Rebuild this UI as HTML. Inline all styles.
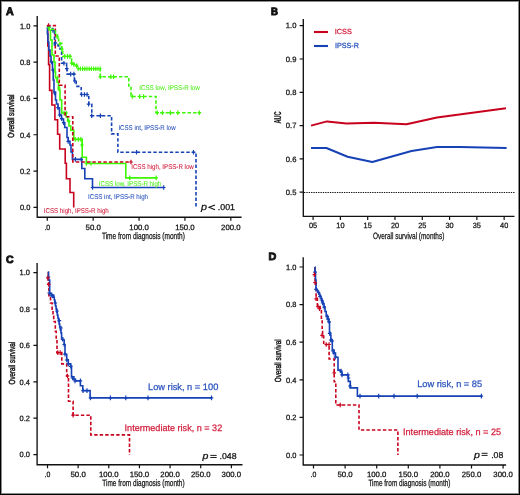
<!DOCTYPE html>
<html><head><meta charset="utf-8"><style>
html,body{margin:0;padding:0;background:#fff;}
#fig{position:relative;width:520px;height:495px;box-sizing:border-box;border:1px solid #000;box-shadow:inset 0 0 0 1px rgba(0,0,0,0.45);overflow:hidden;background:#fff;}
svg{position:absolute;left:-1px;top:-1px;will-change:transform;}
text{font-family:"Liberation Sans",sans-serif;stroke-width:0.25px;paint-order:stroke;text-rendering:geometricPrecision;}
.t{stroke-width:0.42px;}
</style></head><body>
<div id="fig"><svg width="520" height="495" viewBox="0 0 520 495">
<text x="6" y="15" font-size="11" text-anchor="start" fill="#111" stroke="#111" textLength="7.7" lengthAdjust="spacingAndGlyphs" font-weight="bold" style="stroke-width:0.9px">A</text>
<path d="M37.2 16V217.2H241.6" fill="none" stroke="#111" stroke-width="1.35"/>
<path d="M33.5 25.8H37.2M33.5 62.12H37.2M33.5 98.44H37.2M33.5 134.76H37.2M33.5 171.08H37.2M33.5 207.4H37.2M47.3 217.2V220.8M93.18 217.2V220.8M139.06 217.2V220.8M184.94 217.2V220.8M230.82 217.2V220.8" fill="none" stroke="#111" stroke-width="1.2"/>
<text x="30.3" y="28.55" font-size="7.7" text-anchor="end" fill="#111" stroke="#111" textLength="10.4" lengthAdjust="spacingAndGlyphs">1.0</text>
<text x="30.3" y="64.87" font-size="7.7" text-anchor="end" fill="#111" stroke="#111" textLength="10.4" lengthAdjust="spacingAndGlyphs">0.8</text>
<text x="30.3" y="101.19" font-size="7.7" text-anchor="end" fill="#111" stroke="#111" textLength="10.4" lengthAdjust="spacingAndGlyphs">0.6</text>
<text x="30.3" y="137.51" font-size="7.7" text-anchor="end" fill="#111" stroke="#111" textLength="10.4" lengthAdjust="spacingAndGlyphs">0.4</text>
<text x="30.3" y="173.83" font-size="7.7" text-anchor="end" fill="#111" stroke="#111" textLength="10.4" lengthAdjust="spacingAndGlyphs">0.2</text>
<text x="30.3" y="210.15" font-size="7.7" text-anchor="end" fill="#111" stroke="#111" textLength="10.4" lengthAdjust="spacingAndGlyphs">0.0</text>
<text x="47.3" y="229.6" font-size="7.7" text-anchor="middle" fill="#111" stroke="#111" textLength="5.8" lengthAdjust="spacingAndGlyphs">.0</text>
<text x="93.18" y="229.6" font-size="7.7" text-anchor="middle" fill="#111" stroke="#111" textLength="15.3" lengthAdjust="spacingAndGlyphs">50.0</text>
<text x="139.06" y="229.6" font-size="7.7" text-anchor="middle" fill="#111" stroke="#111" textLength="19.5" lengthAdjust="spacingAndGlyphs">100.0</text>
<text x="184.94" y="229.6" font-size="7.7" text-anchor="middle" fill="#111" stroke="#111" textLength="19.5" lengthAdjust="spacingAndGlyphs">150.0</text>
<text x="230.82" y="229.6" font-size="7.7" text-anchor="middle" fill="#111" stroke="#111" textLength="19.5" lengthAdjust="spacingAndGlyphs">200.0</text>
<text x="101.9" y="239" font-size="9.2" text-anchor="start" fill="#111" stroke="#111" textLength="83" lengthAdjust="spacingAndGlyphs">Time from diagnosis (month)</text>
<g transform="translate(14.2 116.1) rotate(-90) scale(0.7102 1)"><text class="t" x="0" y="0" font-size="8.9" text-anchor="middle" fill="#111" stroke="#111">Overall survival</text></g>
<path d="M47.3 25.8H47.8V46H48.6V64.6H49.6V90.4H51.9V105H54.9V119.7H57.6V134.3H59.7V149H65.2V163.2H66.4V178.7H70V192.5H73.7V207.4" fill="none" stroke="#c8021e" stroke-width="1.6"/>
<path d="M47.3 27H47.4V34H47.9V42H48.8V50H50V56H51V62H52.5V70H53.2V80H54V92H55.5V100H56.5V104H58V108H59.5V115H61.5V119H63.5V123H64.7V127.5H67V137.5H68.2V141.4H70V145H71V152H72.4V159.4H81.8V168.5H84.8V178.7H92.5V187.5H163.7" fill="none" stroke="#1642b6" stroke-width="1.6"/>
<path d="M51.5 59.7V64.3M49.7 62H53.3M53 67.7V72.3M51.2 70H54.8M54.5 90.7V95.3M52.7 93H56.3M58 105.3V109.9M56.2 107.6H59.8M59.7 112.7V117.3M57.9 115H61.5M61.7 116.4V121M59.9 118.7H63.5M63.7 120.4V125M61.9 122.7H65.5M68.2 139.1V143.7M66.4 141.4H70M75.4 157.1V161.7M73.6 159.4H77.2M81.2 157.1V161.7M79.4 159.4H83M92.5 185.2V189.8M90.7 187.5H94.3M163.7 185.2V189.8M161.9 187.5H165.5" fill="none" stroke="#1642b6" stroke-width="1.2"/>
<path d="M47.3 27.5H49V30H50.5V40H52V55H54V62H55V72H55.5V78H57V82H58.5V90H60V100H61.7V113H66.2V116.7H67.7V121H69V126H70.8V130.3H73.8V139.4H82.2V157.3H86.4V163.5H125.8V177.9H156.2" fill="none" stroke="#3af800" stroke-width="1.6"/>
<path d="M57.5 75.7V80.3M55.7 78H59.3M59 85.7V90.3M57.2 88H60.8M64 110.7V115.3M62.2 113H65.8M66.2 110.7V115.3M64.4 113H68M68.7 118.7V123.3M66.9 121H70.5M75.3 137.1V141.7M73.5 139.4H77.1M78.3 137.1V141.7M76.5 139.4H80.1M80.9 137.1V141.7M79.1 139.4H82.7M81.9 142.7V147.3M80.1 145H83.7M86.4 161.2V165.8M84.6 163.5H88.2M91 161.2V165.8M89.2 163.5H92.8M129.8 175.6V180.2M128 177.9H131.6M156.2 175.6V180.2M154.4 177.9H158" fill="none" stroke="#3af800" stroke-width="1.2"/>
<path d="M47.3 25.6H55.3V56H59.3V85.3H65.1V116.7H72.8V162H131" fill="none" stroke="#c8021e" stroke-width="1.6" stroke-dasharray="3.4 2.1"/>
<path d="M48.5 23.3V27.9M46.7 25.6H50.3M131 159.7V164.3M129.2 162H132.8" fill="none" stroke="#c8021e" stroke-width="1.2"/>
<path d="M47.3 27.3H50.9V28.5H52.7V30.5H54.5V45H58.2V46H60V49H61.6V63.2H66.6V68.6H67.1V74.1H74.4V80.9H76.2V86.4H81.2V94.5H88.8V104.2H91.8V115.7H111.6V133.9H117.9V152.3H196V207.4" fill="none" stroke="#1642b6" stroke-width="1.6" stroke-dasharray="3.4 2.1"/>
<path d="M53 28.2V32.8M51.2 30.5H54.8M55.5 40.9V45.5M53.7 43.2H57.3M63.9 60.9V65.5M62.1 63.2H65.7M66.8 66.3V70.9M65 68.6H68.6M70.7 71.8V76.4M68.9 74.1H72.5M73.9 71.8V76.4M72.1 74.1H75.7M74.8 78.6V83.2M73 80.9H76.6M81.6 92.2V96.8M79.8 94.5H83.4M84.4 92.2V96.8M82.6 94.5H86.2M87.1 92.2V96.8M85.3 94.5H88.9M88.6 101.9V106.5M86.8 104.2H90.4M91.7 113.4V118M89.9 115.7H93.5M100.4 113.4V118M98.6 115.7H102.2M136.5 150V154.6M134.7 152.3H138.3M193.5 150V154.6M191.7 152.3H195.3" fill="none" stroke="#1642b6" stroke-width="1.2"/>
<path d="M47.3 27.5H51.8V29.5H55.5V35H57.5V37H58.6V43.2H61.8V49.1H62.7V56.4H71.6V63.2H73.9V64.5H76.6V65.9H77.1V68.8H100.3V76.8H128.8V86H131V96.5H156V112.7H200.6" fill="none" stroke="#3af800" stroke-width="1.6" stroke-dasharray="3.4 2.1"/>
<path d="M57.3 34.5V39.1M55.5 36.8H59.1M60 41.8V46.4M58.2 44.1H61.8M61.8 46.8V51.4M60 49.1H63.6M64.8 54.1V58.7M63 56.4H66.6M67.5 54.1V58.7M65.7 56.4H69.3M70 54.1V58.7M68.2 56.4H71.8M71.6 60.9V65.5M69.8 63.2H73.4M73.9 62.2V66.8M72.1 64.5H75.7M76.6 63.6V68.2M74.8 65.9H78.4M100.3 74.5V79.1M98.5 76.8H102.1M110.8 74.5V79.1M109 76.8H112.6M113.5 74.5V79.1M111.7 76.8H115.3M132.3 94.2V98.8M130.5 96.5H134.1M139.6 94.2V98.8M137.8 96.5H141.4M143.5 94.2V98.8M141.7 96.5H145.3M157.3 110.4V115M155.5 112.7H159.1M162.5 110.4V115M160.7 112.7H164.3M170.4 110.4V115M168.6 112.7H172.2M177.8 110.4V115M176 112.7H179.6M199.3 110.4V115M197.5 112.7H201.1" fill="none" stroke="#3af800" stroke-width="1.2"/>
<path d="M78.2 66.6V71M76.9 68.8H79.5M80.4 66.6V71M79.1 68.8H81.7M82.6 66.6V71M81.3 68.8H83.9M84.8 66.6V71M83.5 68.8H86.1M87 66.6V71M85.7 68.8H88.3M89.2 66.6V71M87.9 68.8H90.5M91.4 66.6V71M90.1 68.8H92.7M93.6 66.6V71M92.3 68.8H94.9M95.8 66.6V71M94.5 68.8H97.1M98 66.6V71M96.7 68.8H99.3M100.2 66.6V71M98.9 68.8H101.5" fill="none" stroke="#3af800" stroke-width="1.1"/>
<text x="139.2" y="89.8" font-size="7" text-anchor="start" fill="#55ee22" stroke="#55ee22" textLength="60.6" lengthAdjust="spacingAndGlyphs" style="stroke-width:0.08px">ICSS low, IPSS-R low</text>
<text x="118.4" y="130.1" font-size="7" text-anchor="start" fill="#2a52be" stroke="#2a52be" textLength="57.3" lengthAdjust="spacingAndGlyphs" style="stroke-width:0.08px">ICSS int, IPSS-R low</text>
<text x="131.2" y="169.3" font-size="7" text-anchor="start" fill="#d21e3c" stroke="#d21e3c" textLength="62.6" lengthAdjust="spacingAndGlyphs" style="stroke-width:0.08px">ICSS high, IPSS-R low</text>
<text x="98.8" y="185.5" font-size="7" text-anchor="start" fill="#55ee22" stroke="#55ee22" textLength="62.5" lengthAdjust="spacingAndGlyphs" style="stroke-width:0.08px">ICSS low, IPSS-R high</text>
<text x="88" y="198.8" font-size="7" text-anchor="start" fill="#2a52be" stroke="#2a52be" textLength="60" lengthAdjust="spacingAndGlyphs" style="stroke-width:0.08px">ICSS int, IPSS-R high</text>
<text x="43.8" y="213.3" font-size="7" text-anchor="start" fill="#d21e3c" stroke="#d21e3c" textLength="65" lengthAdjust="spacingAndGlyphs" style="stroke-width:0.08px">ICSS high, IPSS-R high</text>
<text x="200.9" y="209.7" font-size="9.6" text-anchor="start" fill="#111" stroke="#111" textLength="6" lengthAdjust="spacingAndGlyphs" font-style="italic">p</text>
<path d="M215 204.9L209 207.35L215 209.8" fill="none" stroke="#111" stroke-width="1.05"/>
<text x="217.8" y="209.7" font-size="8.6" text-anchor="start" fill="#111" stroke="#111" textLength="17.2" lengthAdjust="spacingAndGlyphs">.001</text>
<text x="271" y="14.7" font-size="10.5" text-anchor="start" fill="#111" stroke="#111" textLength="7" lengthAdjust="spacingAndGlyphs" font-weight="bold" style="stroke-width:0.9px">B</text>
<path d="M303.3 19V216.3H514.5" fill="none" stroke="#111" stroke-width="1.35"/>
<path d="M299.6 25.7H303.3M299.6 59H303.3M299.6 92.3H303.3M299.6 125.6H303.3M299.6 158.9H303.3M299.6 192.2H303.3M313.1 216.3V219.9M340.39 216.3V219.9M367.69 216.3V219.9M394.98 216.3V219.9M422.27 216.3V219.9M449.57 216.3V219.9M476.86 216.3V219.9M504.15 216.3V219.9" fill="none" stroke="#111" stroke-width="1.2"/>
<text x="296.4" y="28.45" font-size="7.7" text-anchor="end" fill="#111" stroke="#111" textLength="10.6" lengthAdjust="spacingAndGlyphs">1.0</text>
<text x="296.4" y="61.75" font-size="7.7" text-anchor="end" fill="#111" stroke="#111" textLength="10.6" lengthAdjust="spacingAndGlyphs">0.9</text>
<text x="296.4" y="95.05" font-size="7.7" text-anchor="end" fill="#111" stroke="#111" textLength="10.6" lengthAdjust="spacingAndGlyphs">0.8</text>
<text x="296.4" y="128.35" font-size="7.7" text-anchor="end" fill="#111" stroke="#111" textLength="10.6" lengthAdjust="spacingAndGlyphs">0.7</text>
<text x="296.4" y="161.65" font-size="7.7" text-anchor="end" fill="#111" stroke="#111" textLength="10.6" lengthAdjust="spacingAndGlyphs">0.6</text>
<text x="296.4" y="194.95" font-size="7.7" text-anchor="end" fill="#111" stroke="#111" textLength="10.6" lengthAdjust="spacingAndGlyphs">0.5</text>
<text x="313.1" y="228.2" font-size="7.7" text-anchor="middle" fill="#111" stroke="#111" textLength="8.2" lengthAdjust="spacingAndGlyphs">05</text>
<text x="340.39" y="228.2" font-size="7.7" text-anchor="middle" fill="#111" stroke="#111" textLength="8.2" lengthAdjust="spacingAndGlyphs">10</text>
<text x="367.69" y="228.2" font-size="7.7" text-anchor="middle" fill="#111" stroke="#111" textLength="8.2" lengthAdjust="spacingAndGlyphs">15</text>
<text x="394.98" y="228.2" font-size="7.7" text-anchor="middle" fill="#111" stroke="#111" textLength="8.2" lengthAdjust="spacingAndGlyphs">20</text>
<text x="422.27" y="228.2" font-size="7.7" text-anchor="middle" fill="#111" stroke="#111" textLength="8.2" lengthAdjust="spacingAndGlyphs">25</text>
<text x="449.57" y="228.2" font-size="7.7" text-anchor="middle" fill="#111" stroke="#111" textLength="8.2" lengthAdjust="spacingAndGlyphs">30</text>
<text x="476.86" y="228.2" font-size="7.7" text-anchor="middle" fill="#111" stroke="#111" textLength="8.2" lengthAdjust="spacingAndGlyphs">35</text>
<text x="504.15" y="228.2" font-size="7.7" text-anchor="middle" fill="#111" stroke="#111" textLength="8.2" lengthAdjust="spacingAndGlyphs">40</text>
<path d="M304 192.5H514.5" stroke="#111" stroke-width="1.1" stroke-dasharray="1.35 1" fill="none"/>
<text x="373" y="238.9" font-size="9.2" text-anchor="start" fill="#111" stroke="#111" textLength="71.3" lengthAdjust="spacingAndGlyphs">Overall survival (months)</text>
<g transform="translate(280.9 117.5) rotate(-90) scale(0.5631 1)"><text class="t" x="0" y="0" font-size="10" text-anchor="middle" fill="#111" stroke="#111" font-weight="bold" style="stroke-width:0.15px">AUC</text></g>
<path d="M314 32H328" stroke="#c8021e" stroke-width="2.1"/>
<path d="M314 46H328" stroke="#1642b6" stroke-width="2.1"/>
<text x="334.8" y="34.2" font-size="7.4" text-anchor="start" fill="#d21e3c" stroke="#d21e3c" textLength="17.1" lengthAdjust="spacingAndGlyphs">ICSS</text>
<text x="335" y="47.7" font-size="7.4" text-anchor="start" fill="#2a52be" stroke="#2a52be" textLength="23.9" lengthAdjust="spacingAndGlyphs">IPSS-R</text>
<polyline points="311,125.6 327,121.4 346.5,123.5 374,122.8 406.5,124.3 437,117.4 506,108.2" fill="none" stroke="#c8021e" stroke-width="2" stroke-linejoin="round"/>
<polyline points="311,148 326.4,148 347.6,156.7 372.3,162 411.5,151 437,147 460,147 506.6,148" fill="none" stroke="#1642b6" stroke-width="2" stroke-linejoin="round"/>
<text x="6.1" y="263.2" font-size="10.5" text-anchor="start" fill="#111" stroke="#111" textLength="7.6" lengthAdjust="spacingAndGlyphs" font-weight="bold" style="stroke-width:0.9px">C</text>
<path d="M37.1 263V464.7H242.5" fill="none" stroke="#111" stroke-width="1.35"/>
<path d="M33.4 272.6H37.1M33.4 309H37.1M33.4 345.4H37.1M33.4 381.8H37.1M33.4 418.2H37.1M33.4 454.6H37.1M47.5 464.7V468.3M78.14 464.7V468.3M108.79 464.7V468.3M139.44 464.7V468.3M170.08 464.7V468.3M200.72 464.7V468.3M231.37 464.7V468.3" fill="none" stroke="#111" stroke-width="1.2"/>
<text x="30" y="275.35" font-size="7.7" text-anchor="end" fill="#111" stroke="#111" textLength="10.4" lengthAdjust="spacingAndGlyphs">1.0</text>
<text x="30" y="311.75" font-size="7.7" text-anchor="end" fill="#111" stroke="#111" textLength="10.4" lengthAdjust="spacingAndGlyphs">0.8</text>
<text x="30" y="348.15" font-size="7.7" text-anchor="end" fill="#111" stroke="#111" textLength="10.4" lengthAdjust="spacingAndGlyphs">0.6</text>
<text x="30" y="384.55" font-size="7.7" text-anchor="end" fill="#111" stroke="#111" textLength="10.4" lengthAdjust="spacingAndGlyphs">0.4</text>
<text x="30" y="420.95" font-size="7.7" text-anchor="end" fill="#111" stroke="#111" textLength="10.4" lengthAdjust="spacingAndGlyphs">0.2</text>
<text x="30" y="457.35" font-size="7.7" text-anchor="end" fill="#111" stroke="#111" textLength="10.4" lengthAdjust="spacingAndGlyphs">0.0</text>
<text x="47.5" y="476.8" font-size="7.7" text-anchor="middle" fill="#111" stroke="#111" textLength="5.8" lengthAdjust="spacingAndGlyphs">.0</text>
<text x="78.14" y="476.8" font-size="7.7" text-anchor="middle" fill="#111" stroke="#111" textLength="15.3" lengthAdjust="spacingAndGlyphs">50.0</text>
<text x="108.79" y="476.8" font-size="7.7" text-anchor="middle" fill="#111" stroke="#111" textLength="19.5" lengthAdjust="spacingAndGlyphs">100.0</text>
<text x="139.44" y="476.8" font-size="7.7" text-anchor="middle" fill="#111" stroke="#111" textLength="19.5" lengthAdjust="spacingAndGlyphs">150.0</text>
<text x="170.08" y="476.8" font-size="7.7" text-anchor="middle" fill="#111" stroke="#111" textLength="19.5" lengthAdjust="spacingAndGlyphs">200.0</text>
<text x="200.72" y="476.8" font-size="7.7" text-anchor="middle" fill="#111" stroke="#111" textLength="19.5" lengthAdjust="spacingAndGlyphs">250.0</text>
<text x="231.37" y="476.8" font-size="7.7" text-anchor="middle" fill="#111" stroke="#111" textLength="19.5" lengthAdjust="spacingAndGlyphs">300.0</text>
<text x="102.3" y="486.4" font-size="9.2" text-anchor="start" fill="#111" stroke="#111" textLength="82.3" lengthAdjust="spacingAndGlyphs">Time from diagnosis (month)</text>
<g transform="translate(14.5 363.1) rotate(-90) scale(0.7020 1)"><text class="t" x="0" y="0" font-size="8.9" text-anchor="middle" fill="#111" stroke="#111">Overall survival</text></g>
<path d="M47.8 272.3H48.3V284.4H48.9V295.7H50.5V303H52.1V310.2H53V316H53.7V321.5H55.3V331.2H56.2V339.3H57V352.6H61.8V363.9H66.7V376H68.5V401.2H73.1V415.2H90.8V434.9H129.5V455" fill="none" stroke="#c8021e" stroke-width="1.6" stroke-dasharray="3.4 2.1"/>
<path d="M47.8 272.3H48.5V280H49.7V293.3H51.5V295H53.7V297.3H54.3V300H54.9V303H55.5V306H56.1V309H56.7V312H57.3V315H57.9V318H58.5V321H59.1V324H59.7V327H60.4V330H61V333H61.6V338H62.6V340H64.2V344.5H65V354.2H66.7V359.9H68.3V363.9H70.7V366.3H71.5V376.8H73.9V379.3H75.5V380.9H80.4V385.7H82.8V390.6H90.1V397.9H211.5" fill="none" stroke="#1642b6" stroke-width="1.6"/>
<path d="M48.5 274.7V279.3M46.7 277H50.3M49.2 290.7V295.3M47.4 293H51M51 292.7V297.3M49.2 295H52.8M52.5 293.7V298.3M50.7 296H54.3M55.3 300.7V305.3M53.5 303H57.1M57 308.7V313.3M55.2 311H58.8M59.4 318.4V323M57.6 320.7H61.2M61 325.7V330.3M59.2 328H62.8M62.6 337V341.6M60.8 339.3H64.4M64.2 342.2V346.8M62.4 344.5H66M65 351.9V356.5M63.2 354.2H66.8M66.7 357.7V362.3M64.9 360H68.5M68.3 361.7V366.3M66.5 364H70.1M70.7 364V368.6M68.9 366.3H72.5M72.5 375.7V380.3M70.7 378H74.3M75 378.6V383.2M73.2 380.9H76.8M80.4 378.6V383.2M78.6 380.9H82.2M83 388.3V392.9M81.2 390.6H84.8M87 388.3V392.9M85.2 390.6H88.8M90.5 395.6V400.2M88.7 397.9H92.3M110.4 395.6V400.2M108.6 397.9H112.2M125.8 395.6V400.2M124 397.9H127.6M148 395.6V400.2M146.2 397.9H149.8M211.5 395.6V400.2M209.7 397.9H213.3" fill="none" stroke="#1642b6" stroke-width="1.2"/>
<path d="M47.9 275.6V280.2M46.1 277.9H49.7M48.7 282.1V286.7M46.9 284.4H50.5M57.8 350.3V354.9M56 352.6H59.6M60.2 350.3V354.9M58.4 352.6H62M67.5 373.7V378.3M65.7 376H69.3M73.1 412.9V417.5M71.3 415.2H74.9" fill="none" stroke="#c8021e" stroke-width="1.2"/>
<text x="148" y="389.7" font-size="9.3" text-anchor="start" fill="#2a52be" stroke="#2a52be" textLength="70.3" lengthAdjust="spacingAndGlyphs">Low risk, n = 100</text>
<text x="124.6" y="430.7" font-size="9.3" text-anchor="start" fill="#d21e3c" stroke="#d21e3c" textLength="97.6" lengthAdjust="spacingAndGlyphs">Intermediate risk, n = 32</text>
<text x="202.6" y="458.6" font-size="9.4" text-anchor="start" fill="#111" stroke="#111" textLength="5.9" lengthAdjust="spacingAndGlyphs" font-style="italic">p</text>
<path d="M210.3 455.4H216.7M210.3 457.5H216.7" fill="none" stroke="#111" stroke-width="0.95"/>
<text x="219.6" y="458.6" font-size="8.6" text-anchor="start" fill="#111" stroke="#111" textLength="17" lengthAdjust="spacingAndGlyphs">.048</text>
<text x="268.4" y="260.2" font-size="10.5" text-anchor="start" fill="#111" stroke="#111" textLength="7.8" lengthAdjust="spacingAndGlyphs" font-weight="bold" style="stroke-width:0.9px">D</text>
<path d="M303.2 257.3V465H506.1" fill="none" stroke="#111" stroke-width="1.35"/>
<path d="M299.5 267H303.2M299.5 304.6H303.2M299.5 342.2H303.2M299.5 379.8H303.2M299.5 417.4H303.2M299.5 455H303.2M313.5 465V468.6M345.1 465V468.6M376.7 465V468.6M408.3 465V468.6M439.9 465V468.6M471.5 465V468.6M503.1 465V468.6" fill="none" stroke="#111" stroke-width="1.2"/>
<text x="296.4" y="269.75" font-size="7.7" text-anchor="end" fill="#111" stroke="#111" textLength="10.4" lengthAdjust="spacingAndGlyphs">1.0</text>
<text x="296.4" y="307.35" font-size="7.7" text-anchor="end" fill="#111" stroke="#111" textLength="10.4" lengthAdjust="spacingAndGlyphs">0.8</text>
<text x="296.4" y="344.95" font-size="7.7" text-anchor="end" fill="#111" stroke="#111" textLength="10.4" lengthAdjust="spacingAndGlyphs">0.6</text>
<text x="296.4" y="382.55" font-size="7.7" text-anchor="end" fill="#111" stroke="#111" textLength="10.4" lengthAdjust="spacingAndGlyphs">0.4</text>
<text x="296.4" y="420.15" font-size="7.7" text-anchor="end" fill="#111" stroke="#111" textLength="10.4" lengthAdjust="spacingAndGlyphs">0.2</text>
<text x="296.4" y="457.75" font-size="7.7" text-anchor="end" fill="#111" stroke="#111" textLength="10.4" lengthAdjust="spacingAndGlyphs">0.0</text>
<text x="313.5" y="476.7" font-size="7.7" text-anchor="middle" fill="#111" stroke="#111" textLength="5.8" lengthAdjust="spacingAndGlyphs">.0</text>
<text x="345.1" y="476.7" font-size="7.7" text-anchor="middle" fill="#111" stroke="#111" textLength="15.3" lengthAdjust="spacingAndGlyphs">50.0</text>
<text x="376.7" y="476.7" font-size="7.7" text-anchor="middle" fill="#111" stroke="#111" textLength="19.5" lengthAdjust="spacingAndGlyphs">100.0</text>
<text x="408.3" y="476.7" font-size="7.7" text-anchor="middle" fill="#111" stroke="#111" textLength="19.5" lengthAdjust="spacingAndGlyphs">150.0</text>
<text x="439.9" y="476.7" font-size="7.7" text-anchor="middle" fill="#111" stroke="#111" textLength="19.5" lengthAdjust="spacingAndGlyphs">200.0</text>
<text x="471.5" y="476.7" font-size="7.7" text-anchor="middle" fill="#111" stroke="#111" textLength="19.5" lengthAdjust="spacingAndGlyphs">250.0</text>
<text x="503.1" y="476.7" font-size="7.7" text-anchor="middle" fill="#111" stroke="#111" textLength="19.5" lengthAdjust="spacingAndGlyphs">300.0</text>
<text x="368.4" y="486.2" font-size="9.2" text-anchor="start" fill="#111" stroke="#111" textLength="82.1" lengthAdjust="spacingAndGlyphs">Time from diagnosis (month)</text>
<g transform="translate(281.1 360.8) rotate(-90) scale(0.7036 1)"><text class="t" x="0" y="0" font-size="8.9" text-anchor="middle" fill="#111" stroke="#111">Overall survival</text></g>
<path d="M314.9 267H314.9V274.6H315.1V282.7H316.1V298.4H317.4V306.6H320.1V309.5H321.4V321H322.2V330H322.6V335H323.7V344.5H329.1V359H334.2V381.7H335.8V405H359V430H397.9V455" fill="none" stroke="#c8021e" stroke-width="1.6" stroke-dasharray="3.4 2.1"/>
<path d="M314.9 267H315V272H315.5V280H316V289.3H317V290.5H318V292.3H319V294.2H320V296.2H321V298.5H322V301H323V303.8H324V307H325V311.5H326.2V315.5H327.5V319H328.5V322H329.5V333H330.5V335.3H330.9V340.2H332.3V350H334V353.1H335.5V357.2H338V370.1H340.4V372H342V374.9H348.3V381.4H350.3V387.9H357.4V396.1H481.4" fill="none" stroke="#1642b6" stroke-width="1.6"/>
<path d="M315 269.8V274.4M313.2 272.1H316.8M316 287V291.6M314.2 289.3H317.8M318.5 290.2V294.8M316.7 292.5H320.3M320 294V298.6M318.2 296.3H321.8M321.5 297.7V302.3M319.7 300H323.3M322.6 300.7V305.3M320.8 303H324.4M324.2 304.8V309.4M322.4 307.1H326M327.2 314.4V319M325.4 316.7H329M328.2 316.9V321.5M326.4 319.2H330M329.2 319.5V324.1M327.4 321.8H331M329.7 331.1V335.7M327.9 333.4H331.5M330.7 337.7V342.3M328.9 340H332.5M332.3 338.7V343.3M330.5 341H334.1M333 348.7V353.3M331.2 351H334.8M334 350.8V355.4M332.2 353.1H335.8M335.5 354.9V359.5M333.7 357.2H337.3M341 368.7V373.3M339.2 371H342.8M342 372.6V377.2M340.2 374.9H343.8M347.8 372.6V377.2M346 374.9H349.6M348.5 375.7V380.3M346.7 378H350.3M350 383.7V388.3M348.2 386H351.8M360 393.8V398.4M358.2 396.1H361.8M378.7 393.8V398.4M376.9 396.1H380.5M394 393.8V398.4M392.2 396.1H395.8M417.2 393.8V398.4M415.4 396.1H419M481.4 393.8V398.4M479.6 396.1H483.2" fill="none" stroke="#1642b6" stroke-width="1.2"/>
<path d="M314.4 272.3V276.9M312.6 274.6H316.2M315.1 280.4V285M313.3 282.7H316.9M316.1 296.5V301.1M314.3 298.8H317.9M318 304.3V308.9M316.2 306.6H319.8M319.5 306.3V310.9M317.7 308.6H321.3M322.1 333.1V337.7M320.3 335.4H323.9M326.2 342.2V346.8M324.4 344.5H328M329.1 342.2V346.8M327.3 344.5H330.9M334.2 370.5V375.1M332.4 372.8H336M340.2 402.7V407.3M338.4 405H342" fill="none" stroke="#c8021e" stroke-width="1.2"/>
<text x="417.2" y="387.2" font-size="9.3" text-anchor="start" fill="#2a52be" stroke="#2a52be" textLength="64.9" lengthAdjust="spacingAndGlyphs">Low risk, n = 85</text>
<text x="403" y="435.2" font-size="9.3" text-anchor="start" fill="#d21e3c" stroke="#d21e3c" textLength="98.1" lengthAdjust="spacingAndGlyphs">Intermediate risk, n = 25</text>
<text x="474" y="457.5" font-size="9.4" text-anchor="start" fill="#111" stroke="#111" textLength="5.9" lengthAdjust="spacingAndGlyphs" font-style="italic">p</text>
<path d="M481.6 453.3H487.6M481.6 455.4H487.6" fill="none" stroke="#111" stroke-width="0.95"/>
<text x="491.2" y="457.5" font-size="8.6" text-anchor="start" fill="#111" stroke="#111" textLength="12.1" lengthAdjust="spacingAndGlyphs">.08</text>
</svg></div>
</body></html>
